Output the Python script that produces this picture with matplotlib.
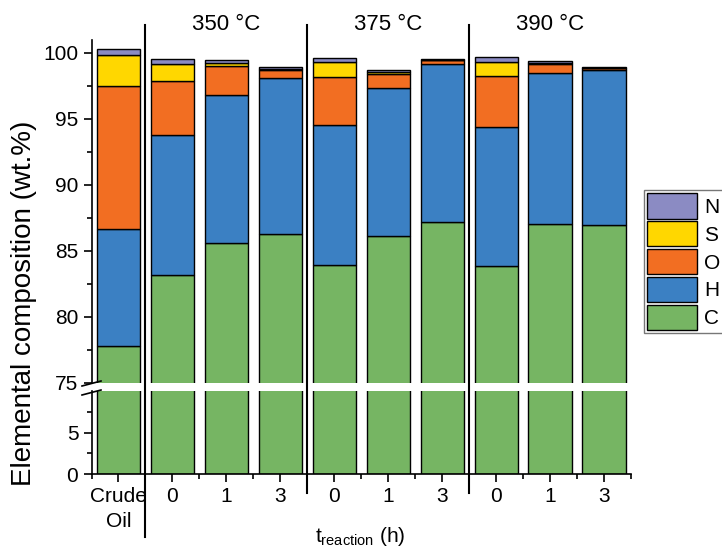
import matplotlib
matplotlib.use("Agg")
from matplotlib import pyplot as plt
from matplotlib import transforms
from matplotlib.patches import Patch
import numpy as np

plt.rcParams['font.family'] = ['Liberation Sans', 'DejaVu Sans']
plt.rcParams['font.size'] = 15

### data (wt.%) ###
samples = ["Crude\nOil", "0", "1", "3", "0", "1", "3", "0", "1", "3"]
groups = ["350 °C", "375 °C", "390 °C"]
carbon = [77.8, 83.15, 85.57, 86.25, 83.9, 86.15, 87.17, 83.87, 87.02, 86.95]
hydrogen = [8.85, 10.6, 11.23, 11.83, 10.6, 11.2, 12.0, 10.51, 11.41, 11.7]
oxygen = [10.8, 4.1, 2.15, 0.6, 3.63, 1.0, 0.28, 3.87, 0.67, 0.15]
sulfur = [2.38, 1.28, 0.23, 0.1, 1.15, 0.15, 0.02, 1.03, 0.1, 0.02]
nitrogen = [0.45, 0.37, 0.27, 0.12, 0.3, 0.15, 0.03, 0.35, 0.18, 0.08]

elements = ["C", "H", "O", "S", "N"]
layers = [carbon, hydrogen, oxygen, sulfur, nitrogen]
colors = ["#76b563", "#3b80c3", "#f26e22", "#ffd700", "#8b8bc3"]

W, H = 722, 552
fig = plt.figure(figsize=(W / 100, H / 100), dpi=100)

left, right = 91.5, 631
ax_top = fig.add_axes([left / W, 1 - 383 / H, (right - left) / W, (383 - 40) / H])
ax_bot = fig.add_axes([left / W, 1 - 474 / H, (right - left) / W, (474 - 391) / H])

x = np.arange(len(samples))

def draw_bars(ax):
    bottom = np.zeros(len(samples))
    for vals, col, name in zip(layers, colors, elements):
        ax.bar(x, vals, 0.8, bottom=bottom, color=col, edgecolor="black",
               linewidth=1.0, label=name)
        bottom += np.array(vals)
    ax.set_xlim(-0.5, 9.5)
    for side in ["top", "right"]:
        ax.spines[side].set_visible(False)
    ax.spines["left"].set_linewidth(1.2)
    ax.spines["bottom"].set_linewidth(1.2)
    ax.tick_params(which="major", direction="out", length=6, width=1.2)
    ax.tick_params(which="minor", direction="out", length=3.5, width=1.2)

draw_bars(ax_top)
draw_bars(ax_bot)

ax_top.set_ylim(75, 100.95)
ax_top.set_yticks([75, 80, 85, 90, 95, 100])
ax_top.set_yticks(np.arange(77.5, 100, 5), minor=True)
ax_top.spines["bottom"].set_visible(False)
ax_top.tick_params(axis="x", which="both", bottom=False, labelbottom=False)

ax_bot.set_ylim(0, 10)
ax_bot.set_yticks([0, 5])
ax_bot.set_yticks([2.5, 7.5], minor=True)
ax_bot.set_xticks(x)
ax_bot.set_xticklabels(samples, linespacing=1.4)
ax_bot.set_xticks(np.arange(-0.5, 10, 1), minor=True)

# group separators and temperature labels
tr = transforms.blended_transform_factory(ax_bot.transData, fig.transFigure)
for s, y0 in zip([0.5, 3.5, 6.5], [537, 493, 493]):
    fig.add_artist(plt.Line2D([s, s], [1 - 25 / H, 1 - y0 / H], transform=tr,
                              color="black", linewidth=1.5))
for i, g in enumerate(groups):
    fig.text(2 + 3 * i, 1 - 25 / H, g, transform=tr, ha="center", va="center",
             fontsize=16)

# axis break marks
for yb in [384, 393]:
    fig.add_artist(plt.Line2D([82 / W, 101 / W], [1 - (yb + 2) / H, 1 - (yb - 3) / H],
                              color="black", linewidth=1.2))

fig.text(24 / W, 1 - 303 / H, "Elemental composition (wt.%)", rotation=90,
         ha="center", va="center", fontsize=20)
fig.text(360 / W, 1 - 536 / H, r"$\mathregular{t_{reaction}}$ (h)",
         ha="center", va="center")

handles = [Patch(facecolor=c, edgecolor="black", linewidth=1.0) for c in colors]
leg = fig.legend(handles[::-1], elements[::-1], loc="upper left",
                 bbox_to_anchor=(644 / W, 1 - 190 / H), frameon=True, fancybox=False,
                 handlelength=2.4, handleheight=1.5, labelspacing=0.12,
                 handletextpad=0.35, borderpad=0.15, borderaxespad=0, fontsize=15)
leg.get_frame().set_edgecolor("#555555")
leg.get_frame().set_linewidth(1.0)

fig.savefig("out.png", dpi=100)
